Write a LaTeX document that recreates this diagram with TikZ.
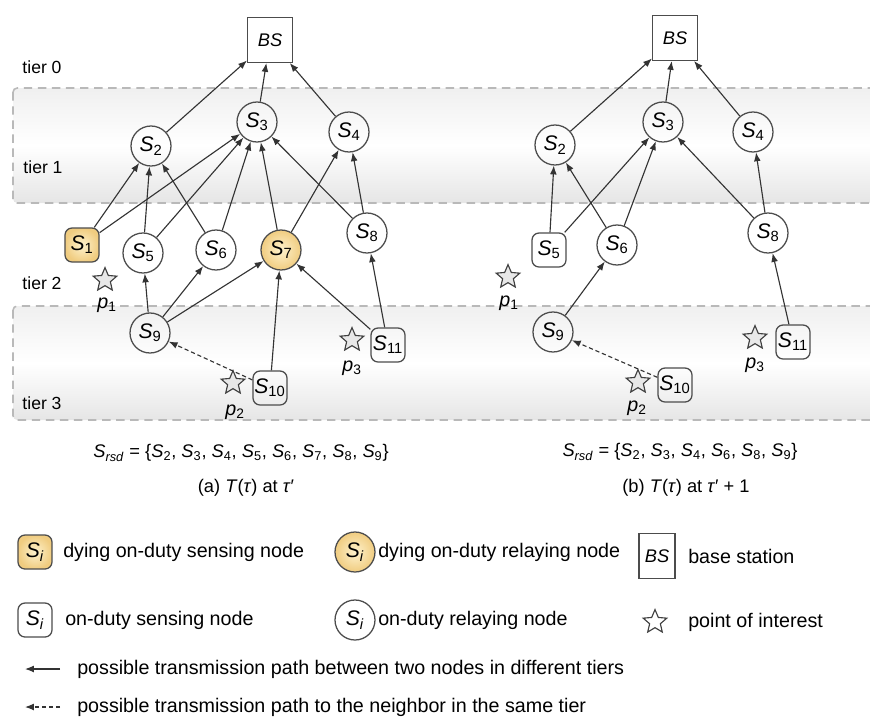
\documentclass[tikz,border=0pt]{standalone}
\usepackage{fontspec}
\setmainfont{Liberation Sans}
\usetikzlibrary{shapes.geometric,arrows.meta}
\definecolor{dyingfill}{RGB}{240,204,128}
\definecolor{dyinglight}{RGB}{254,242,205}
\newcommand{\sid}[1]{\textit{S}\textsubscript{#1}}

\begin{document}
\begin{tikzpicture}[x=0.025cm,y=-0.025cm]
  \tikzset{relay node/.style={draw=black!70,line width=0.9pt,circle,minimum size=1cm,inner sep=0pt,font=\fontsize{15}{15}\selectfont},
    sense node/.style={draw=black!70,line width=0.9pt,rounded corners=5pt,minimum width=0.85cm,minimum height=0.85cm,inner sep=1pt,font=\fontsize{15}{15}\selectfont},
    dying/.style={inner color=dyinglight,outer color=dyingfill},
    base box/.style={draw=black!70,line width=0.9pt,minimum size=1.12cm,inner sep=0pt,font=\fontsize{13}{13}\selectfont\itshape},
    poi star/.style={draw=black!75,line width=0.8pt,star,star points=5,star point ratio=2.2,minimum size=0.62cm,inner sep=0pt,fill=gray!18},
    poi label/.style={font=\fontsize{14}{14}\selectfont\itshape},
    tier band/.style={draw=gray!55,dash pattern=on 6pt off 4pt,line width=1.1pt,rounded corners=3pt,top color=gray!12,bottom color=gray!20,middle color=white},
    tier label/.style={font=\fontsize{12.5}{13}\selectfont},
    link/.style={draw=black!80,line width=0.8pt,-{Latex[length=2.2mm,width=1.7mm]}},
    peer link/.style={link,densely dashed},
    caption/.style={font=\fontsize{13}{15}\selectfont},
    legend text/.style={anchor=west,inner sep=0pt,font=\fontsize{14}{16}\selectfont}}
  \useasboundingbox (0,0) rectangle (870,718);

  % tiers
  \path[tier band] (13,88) rectangle (890,203);
  \path[tier band] (13,306) rectangle (890,420);
  \node[tier label] (t0) at (42,67) {tier 0};
  \node[tier label] (t1) at (43,167) {tier 1};
  \node[tier label] (t2) at (42,283) {tier 2};
  \node[tier label] (t3) at (42,403) {tier 3};

  % (a) tree at tau'
  \node[base box] (aBS) at (270,40) {BS};
  \node[relay node] (aS2) at (151,146) {\sid{2}};
  \node[relay node] (aS3) at (257,122) {\sid{3}};
  \node[relay node] (aS4) at (349,132) {\sid{4}};
  \node[sense node,dying] (aS1) at (82,245) {\sid{1}};
  \node[relay node] (aS5) at (143,253) {\sid{5}};
  \node[relay node] (aS6) at (216,250) {\sid{6}};
  \node[relay node,dying] (aS7) at (281,250) {\sid{7}};
  \node[relay node] (aS8) at (367,233) {\sid{8}};
  \node[relay node] (aS9) at (150,333) {\sid{9}};
  \node[sense node] (aS10) at (270,388) {\sid{10}};
  \node[sense node] (aS11) at (388,345) {\sid{11}};
  \node[poi star] (ap1) at (105,280) {};
  \node[poi label] (ap1l) at (107,305) {p\textsubscript{\upshape 1}};
  \node[poi star] (ap2) at (233,383) {};
  \node[poi label] (ap2l) at (235,412) {p\textsubscript{\upshape 2}};
  \node[poi star] (ap3) at (352,340) {};
  \node[poi label] (ap3l) at (352,368) {p\textsubscript{\upshape 3}};

  \foreach \s in {S2,S3,S4} \draw[link] (a\s) -- (aBS);
  \foreach \f/\t in {S1/S2,S1/S3,S5/S2,S5/S3,S6/S2,S6/S3,S7/S3,S7/S4,S8/S3,S8/S4,S9/S5,S9/S6,S9/S7,S10/S7,S11/S7,S11/S8}
    \draw[link] (a\f) -- (a\t);
  \draw[peer link] (aS10) -- (aS9);

  % (b) tree at tau'+1
  \node[base box] (bBS) at (675,38) {BS};
  \node[relay node] (bS2) at (555,145) {\sid{2}};
  \node[relay node] (bS3) at (663,122) {\sid{3}};
  \node[relay node] (bS4) at (753,132) {\sid{4}};
  \node[sense node] (bS5) at (549,250) {\sid{5}};
  \node[relay node] (bS6) at (617,245) {\sid{6}};
  \node[relay node] (bS8) at (768,233) {\sid{8}};
  \node[relay node] (bS9) at (553,332) {\sid{9}};
  \node[sense node] (bS10) at (675,385) {\sid{10}};
  \node[sense node] (bS11) at (793,342) {\sid{11}};
  \node[poi star] (bp1) at (508,277) {};
  \node[poi label] (bp1l) at (509,303) {p\textsubscript{\upshape 1}};
  \node[poi star] (bp2) at (638,382) {};
  \node[poi label] (bp2l) at (637,408) {p\textsubscript{\upshape 2}};
  \node[poi star] (bp3) at (755,338) {};
  \node[poi label] (bp3l) at (755,365) {p\textsubscript{\upshape 3}};

  \foreach \s in {S2,S3,S4} \draw[link] (b\s) -- (bBS);
  \foreach \f/\t in {S5/S2,S5/S3,S6/S2,S6/S3,S8/S3,S8/S4,S9/S6,S11/S8}
    \draw[link] (b\f) -- (b\t);
  \draw[peer link] (bS10) -- (bS9);

  % captions
  \node[caption] (aset) at (241,453) {\sid{\textit{rsd}} = \{\sid{2}, \sid{3}, \sid{4}, \sid{5}, \sid{6}, \sid{7}, \sid{8}, \sid{9}\}};
  \node[caption] (acap) at (246,488) {(a) \textit{T}(\textit{τ}) at \textit{τ}′};
  \node[caption] (bset) at (680,452) {\sid{\textit{rsd}} = \{\sid{2}, \sid{3}, \sid{4}, \sid{6}, \sid{8}, \sid{9}\}};
  \node[caption] (bcap) at (686,488) {(b) \textit{T}(\textit{τ}) at \textit{τ}′ + 1};

  % legend
  \node[sense node,dying] (lgDS) at (35,552) {\sid{\textit{i}}};
  \node[legend text] (lgDSt) at (63,552) {dying on-duty sensing node};
  \node[relay node,dying] (lgDR) at (355,552) {\sid{\textit{i}}};
  \node[legend text] (lgDRt) at (378,552) {dying on-duty relaying node};
  \node[base box,minimum width=0.9cm] (lgBS) at (657,556) {BS};
  \node[legend text] (lgBSt) at (688,556) {base station};
  \node[sense node] (lgS) at (35,620) {\sid{\textit{i}}};
  \node[legend text] (lgSt) at (65,620) {on-duty sensing node};
  \node[relay node] (lgR) at (355,620) {\sid{\textit{i}}};
  \node[legend text] (lgRt) at (378,620) {on-duty relaying node};
  \node[poi star,fill=white] (lgP) at (655,622) {};
  \node[legend text] (lgPt) at (688,622) {point of interest};
  \coordinate (lgL1a) at (60,669);
  \coordinate (lgL1b) at (25,669);
  \draw[link] (lgL1a) -- (lgL1b);
  \node[legend text] (lgL1t) at (77,669) {possible transmission path between two nodes in different tiers};
  \coordinate (lgL2a) at (60,707);
  \coordinate (lgL2b) at (25,707);
  \draw[peer link] (lgL2a) -- (lgL2b);
  \node[legend text] (lgL2t) at (77,707) {possible transmission path to the neighbor in the same tier};
\end{tikzpicture}
\end{document}
